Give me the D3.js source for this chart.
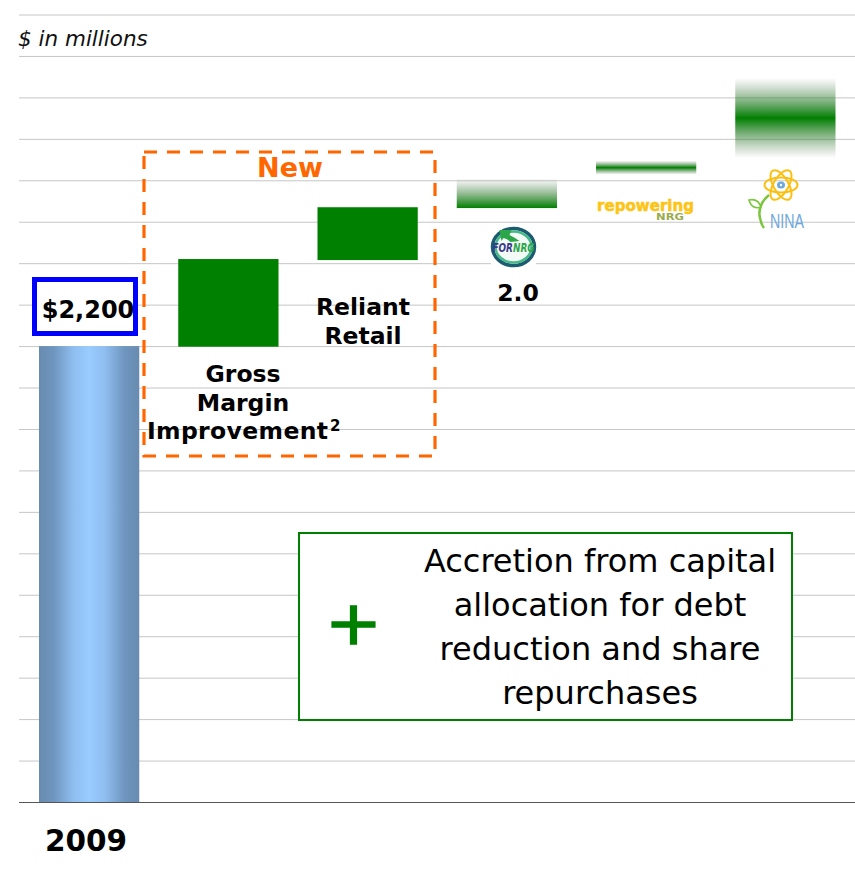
<!DOCTYPE html>
<html><head><meta charset="utf-8">
<script src="https://cdn.jsdelivr.net/npm/d3@7/dist/d3.min.js"></script>
<style>html,body{margin:0;padding:0;background:#fff}svg{display:block}text{font-family:"DejaVu Sans",sans-serif}text.nina{font-family:"Liberation Sans",sans-serif}</style>
</head><body><svg id="c" width="855" height="882"></svg>
<script>
const categories = ["2009","Gross Margin Improvement","Reliant Retail","FORNRG 2.0","Repowering NRG","NINA"];
const barStart = [0,2197,2615,2866,3027,3107];
const barEnd = [2200,2620,2870,3010,3095,3494];
barStart[0] = 0;
const barFills = ["steel","solid","solid","fadeUp","fadeBoth","fadeBoth"];
const gridTicks = d3.range(0,3801,200);
const valueLabel = "$2,200";
const unitLabel = "$ in millions";
const calloutLines = ["Accretion from capital","allocation for debt","reduction and share","repurchases"];

const svg = d3.select("#c");
const GREEN = "#008000", ORANGE = "#ff6600";
const x = d3.scaleBand().domain(categories).range([19.5,855]).paddingInner(0.28).paddingOuter(0.14);
const y = d3.scaleLinear().domain([0,3800]).range([802,14.5]);

// gradients
const defs = svg.append("defs");
const steel = defs.append("linearGradient").attr("id","steel");
[[0,"#688bb0"],[0.15,"#6f96bf"],[0.34,"#8fbdf0"],[0.5,"#99ccff"],[0.66,"#8fbdf0"],[0.85,"#6f96bf"],[1,"#688bb0"]]
  .forEach(s=>steel.append("stop").attr("offset",s[0]).attr("stop-color",s[1]));
const fadeUp = defs.append("linearGradient").attr("id","fadeUp").attr("x1",0).attr("x2",0).attr("y1",0).attr("y2",1);
fadeUp.append("stop").attr("offset",0).attr("stop-color","#5a7a5a").attr("stop-opacity",0);
fadeUp.append("stop").attr("offset",1).attr("stop-color",GREEN);
const fadeBoth = defs.append("linearGradient").attr("id","fadeBoth").attr("x1",0).attr("x2",0).attr("y1",0).attr("y2",1);
fadeBoth.append("stop").attr("offset",0).attr("stop-color","#5a7a5a").attr("stop-opacity",0);
fadeBoth.append("stop").attr("offset",0.5).attr("stop-color",GREEN);
fadeBoth.append("stop").attr("offset",1).attr("stop-color","#5a7a5a").attr("stop-opacity",0);

// grid through axis
const axis = d3.axisLeft(y).tickValues(gridTicks).tickSize(-(855-19)).tickFormat("");
const ga = svg.append("g").attr("transform","translate(19,0)").call(axis);
ga.select(".domain").remove();
ga.selectAll(".tick line").attr("stroke","#c6c6c6").attr("stroke-width",1);
ga.selectAll(".tick").filter(d=>d===0).select("line").attr("stroke","#555");

// bars
svg.append("g").selectAll("rect").data(categories).join("rect")
  .attr("x",d=>x(d)).attr("width",x.bandwidth())
  .attr("y",(d,i)=>y(barEnd[i])).attr("height",(d,i)=>y(barStart[i])-y(barEnd[i]))
  .attr("fill",(d,i)=>barFills[i]==="solid"?GREEN:`url(#${barFills[i]})`);

function label(lines,cx,y0,lh,size,weight,fill,style){
  const t=svg.append("text").attr("text-anchor","middle").attr("font-size",size).attr("font-weight",weight||"normal").attr("fill",fill||"#000").attr("font-style",style||"normal");
  lines.forEach((l,i)=>t.append("tspan").attr("x",cx).attr("y",y0+i*lh).text(l));
  return t;
}
svg.append("text").attr("x",18).attr("y",46).attr("font-size",21.5).attr("font-style","italic").attr("fill","#111").text(unitLabel);

// value box
svg.append("rect").attr("x",34.5).attr("y",279.5).attr("width",101).attr("height",54).attr("fill","#fff").attr("stroke","#0000ff").attr("stroke-width",5);
label([valueLabel],88,318,0,24,"bold");

// new box
svg.append("rect").attr("x",144).attr("y",152).attr("width",291).attr("height",304).attr("fill","none").attr("stroke",ORANGE).attr("stroke-width",3.2).attr("stroke-dasharray","13 10");
label(["New"],290,177,0,27,"bold",ORANGE);

label(["Gross","Margin"],243,382,28.5,23.5,"bold");
svg.append("text").attr("x",147).attr("y",439).attr("font-size",23.5).attr("font-weight","bold").attr("textLength",181).attr("lengthAdjust","spacing").text("Improvement");
svg.append("text").attr("x",330).attr("y",431).attr("font-size",15).attr("font-weight","bold").text("2");
label(["Reliant","Retail"],363,315,28.5,23.5,"bold");
label(["2.0"],518,301,0,23.5,"bold");
label(["2009"],86,851,0,29.5,"bold");

// FORNRG logo
svg.append("rect").attr("x",491).attr("y",227).attr("width",45).attr("height",40).attr("fill","#fff");
const fg=svg.append("g").attr("transform","translate(513.5,247)");
fg.append("ellipse").attr("rx",21).attr("ry",18.5).attr("fill","#fff").attr("stroke","#1c5c70").attr("stroke-width",3.5);
fg.append("ellipse").attr("rx",18).attr("ry",15.5).attr("fill","#f4fbf6").attr("stroke","#48b98a").attr("stroke-width",2.5);
fg.append("path").attr("d","M-14 -17 L-2 -17 L-4 -12 Q2 -9 6 -6 L-3 -5 Q-6 -8 -10 -9 L-12 -6 Z").attr("fill","#2da64a");
const ft=fg.append("text").attr("x",-21).attr("y",5).attr("font-size",13).attr("font-weight","bold").attr("font-style","italic").attr("textLength",42).attr("lengthAdjust","spacingAndGlyphs");
ft.append("tspan").attr("fill","#3a3a8c").text("FOR");
ft.append("tspan").attr("fill","#2da64a").text("NRG");

// repowering logo
svg.append("text").attr("x",597).attr("y",211).attr("font-size",15).attr("font-weight","bold").attr("fill","#fdc414").attr("stroke","#fdc414").attr("stroke-width",0.5).attr("textLength",97).attr("lengthAdjust","spacingAndGlyphs").text("repowering");
svg.append("text").attr("x",656).attr("y",219.5).attr("font-size",8.5).attr("font-weight","bold").attr("fill","#9aab4c").attr("textLength",28).attr("lengthAdjust","spacingAndGlyphs").text("NRG");

// NINA logo
const ng=svg.append("g").attr("transform","translate(781,185)");
[0,60,120].forEach(a=>ng.append("ellipse").attr("rx",16.5).attr("ry",7.5).attr("transform",`rotate(${a})`).attr("fill","none").attr("stroke","#fcbf0f").attr("stroke-width",2));
ng.append("ellipse").attr("rx",4).attr("ry",3.5).attr("fill","#6ea8dc");
ng.append("circle").attr("r",1.2).attr("fill","#fff");
svg.append("path").attr("d","M769 195 Q757 205 760 218 Q761 224 764 228").attr("fill","none").attr("stroke","#7cc63e").attr("stroke-width",2.5);
svg.append("path").attr("d","M749 200 Q758 198 761 207 Q752 210 749 200 Z").attr("fill","#fff").attr("stroke","#7cc63e").attr("stroke-width",1.6);
svg.append("text").attr("class","nina").attr("x",770).attr("y",228).attr("font-size",21).attr("fill","#6fa8dc").attr("textLength",34).attr("lengthAdjust","spacingAndGlyphs").text("NINA");

// callout
svg.append("rect").attr("x",299).attr("y",533).attr("width",493).attr("height",187).attr("fill","#fff").attr("stroke",GREEN).attr("stroke-width",2);
label(calloutLines,600,572,44,32,"normal");
svg.append("text").attr("transform","translate(353.5,644) scale(1,0.88)").attr("text-anchor","middle").attr("font-size",68).attr("fill",GREEN).attr("stroke",GREEN).attr("stroke-width",1.6).text("+");
</script></body></html>
